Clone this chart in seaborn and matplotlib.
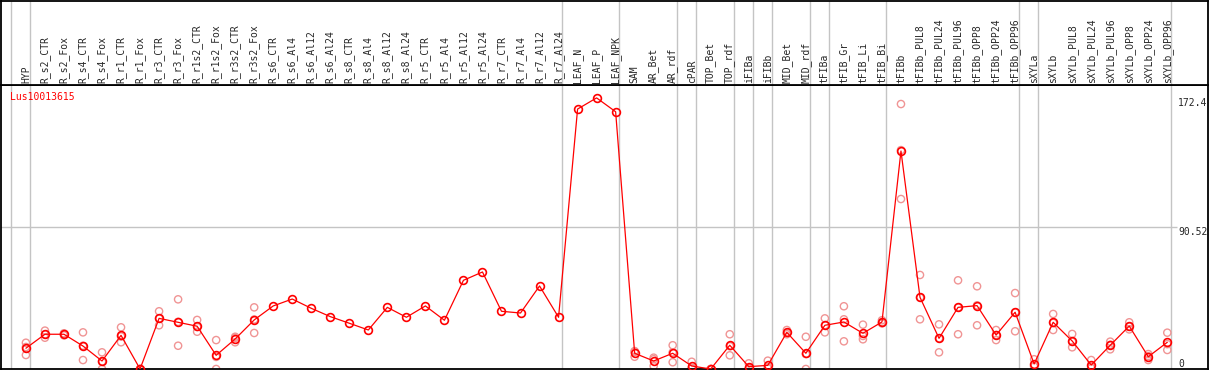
import numpy as np, pandas as pd
import seaborn as sns, matplotlib.pyplot as plt
from matplotlib.transforms import blended_transform_factory

gene = "Lus10013615"

samples = ["HYP",
           "R_s2_CTR", "R_s2_Fox", "R_s4_CTR", "R_s4_Fox", "R_r1_CTR", "R_r1_Fox",
           "R_r3_CTR", "R_r3_Fox", "R_r1s2_CTR", "R_r1s2_Fox", "R_r3s2_CTR", "R_r3s2_Fox",
           "R_s6_CTR", "R_s6_Al4", "R_s6_Al12", "R_s6_Al24",
           "R_s8_CTR", "R_s8_Al4", "R_s8_Al12", "R_s8_Al24",
           "R_r5_CTR", "R_r5_Al4", "R_r5_Al12", "R_r5_Al24",
           "R_r7_CTR", "R_r7_Al4", "R_r7_Al12", "R_r7_Al24",
           "LEAF_N", "LEAF_P", "LEAF_NPK",
           "SAM", "AR_Bet", "AR_rdf", "cPAR", "TOP_Bet", "TOP_rdf",
           "iFIBa", "iFIBb", "MID_Bet", "MID_rdf",
           "tFIBa", "tFIB_Gr", "tFIB_Li", "tFIB_Bi",
           "tFIBb", "tFIBb_PUL8", "tFIBb_PUL24", "tFIBb_PUL96",
           "tFIBb_OPP8", "tFIBb_OPP24", "tFIBb_OPP96",
           "sXYLa", "sXYLb", "sXYLb_PUL8", "sXYLb_PUL24", "sXYLb_PUL96",
           "sXYLb_OPP8", "sXYLb_OPP24", "sXYLb_OPP96"]

# sizes of the sample groups separated by the grey vertical lines
group_sizes = [1, 28, 3, 3, 1, 2, 1, 1, 2, 1, 3, 7, 1, 7]

mean_expr = [13.2, 22.1, 22.1, 14.6, 5.1, 21.4, 0.0, 32.2, 29.7, 27.2, 8.7, 19.1, 31.2,
             40.1, 44.5, 38.6, 33.3, 29.1, 24.8, 39.2, 32.9, 40.1, 31.0, 56.4, 61.7,
             36.7, 35.6, 52.8, 32.9,
             165.3, 172.4, 163.6,
             10.0, 5.1, 10.0, 1.9, 0.0, 15.1, 1.5, 2.3, 23.3, 10.0,
             27.8, 29.9, 22.7, 29.9, 138.6,
             45.6, 19.5, 39.2, 40.3, 21.6, 36.1,
             3.2, 29.7, 17.8, 2.5, 15.1, 27.3, 7.8, 17.0]

na = [np.nan] * 19
rep_hi = ([16.7, 24.4, 22.7, 23.3, 10.6, 26.5, 0.0, 36.7, 44.3, 31.2, 18.4, 20.5, 39.2] + na +
          [11.4, 7.2, 15.1, 4.6, 0.0, 22.1, 3.6, 5.3, 24.8, 20.5,
           32.2, 39.9, 28.2, 31.0, 168.5,
           59.8, 28.4, 56.4, 52.6, 24.8, 48.3,
           6.2, 35.0, 22.3, 5.7, 17.4, 29.7, 9.5, 23.1])
rep_mid = ([14.0, 22.0, 22.2, 14.8, 4.7, 20.7, 0.0, 32.1, 30.0, 26.7, 7.7, 19.8, 31.5] + na +
           [10.8, 6.2, 10.6, 0.7, 0.0, 14.5, 0.6, 0.5, 23.0, 9.5,
            27.9, 31.6, 21.0, 29.7, 139.2,
            45.4, 19.5, 39.1, 40.5, 21.6, 36.0,
            1.9, 29.3, 17.3, 0.5, 15.4, 27.0, 8.2, 15.8])
rep_lo = ([8.9, 19.9, 21.4, 5.7, 0.0, 17.0, 0.0, 27.8, 14.8, 23.7, 0.0, 17.0, 22.9] + na +
          [7.8, 1.9, 4.3, 0.4, 0.0, 8.7, 0.3, 1.1, 22.1, 0.0,
           23.3, 17.6, 18.9, 29.0, 108.1,
           31.6, 10.6, 22.1, 27.8, 18.4, 24.0,
           1.5, 24.8, 13.8, 1.3, 12.5, 25.2, 5.7, 12.1])

y_marks = [172.4, 90.52, 0]
y_mark_labels = ["172.4", "90.52", "0"]

pos = np.arange(len(samples))
df = pd.DataFrame({"pos": pos, "sample": samples, "mean": mean_expr})
reps = pd.DataFrame({"pos": np.tile(pos, 3),
                     "value": rep_hi + rep_mid + rep_lo}).dropna()

sns.set_style("white")
plt.rcParams["font.family"] = ["DejaVu Sans Mono"]
plt.rcParams["font.size"] = 7

W, H = 1209, 370
fig = plt.figure(figsize=(W / 100, H / 100), dpi=100)
ax = fig.add_axes([1 / W, 1 / H, 1207 / W, 284 / H])
ax_lab = fig.add_axes([1 / W, 285 / H, 1207 / W, 84 / H], sharex=ax)

grey = "#c4c4c4"
bounds = [-1 + 0.2] + list(np.cumsum(group_sizes) - 1 + 0.2)
for b in bounds:
    ax.axvline(b, color=grey, lw=1, zorder=0)
    ax_lab.axvline(b, color=grey, lw=1, zorder=0)
ax.hlines(90.52, -1.4, 60.5, color=grey, lw=1, zorder=0)

sns.scatterplot(data=reps, x="pos", y="value", ax=ax, marker="o", s=27,
                color="none", edgecolor="#f09494", linewidth=1.0, zorder=2)
sns.lineplot(data=df, x="pos", y="mean", ax=ax, color="red", lw=0.9,
             marker="o", markersize=5.6, mfc="none", mec="red", mew=1.2, zorder=3)

ax.set_xlim(-1.31, 62.14)
ax.set_ylim(0, 180.6)
for a in (ax, ax_lab):
    a.set_xticks([])
    a.set_yticks([])
    a.set_xlabel("")
    a.set_ylabel("")
    for s in a.spines.values():
        s.set_color("black")
        s.set_linewidth(1.3)
ax_lab.set_ylim(0, 1)

tr = blended_transform_factory(ax_lab.transData, ax_lab.transAxes)
for p, name in zip(pos, samples):
    ax_lab.text(p, 0.025, name, rotation=90, ha="center", va="bottom",
                transform=tr, fontsize=7)

for v, t in zip(y_marks, y_mark_labels):
    ax.text(60.58, v, t, ha="left", va="bottom" if v == 0 else "top", fontsize=7)

ax.text(0.0075, 0.975, gene, transform=ax.transAxes, color="red",
        ha="left", va="top", fontsize=7)

fig.savefig("out.png", dpi=100)
